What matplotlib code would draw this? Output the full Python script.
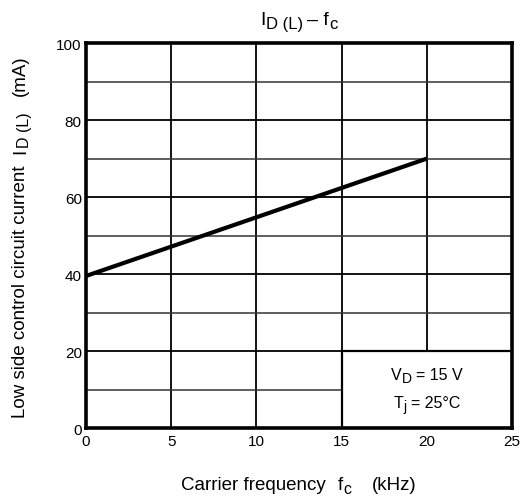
import matplotlib
matplotlib.use("Agg")
import matplotlib.pyplot as plt
from matplotlib.patches import Rectangle

plt.rcParams['font.family'] = ['Liberation Sans', 'DejaVu Sans']

freq_khz = [0, 20]
current_ma = [39.5, 70]
x_ticks = [0, 5, 10, 15, 20, 25]
y_ticks = [0, 20, 40, 60, 80, 100]
minor_y = [10, 30, 50, 70, 90]

W, H, DPI = 5.24, 5.02, 100
fig = plt.figure(figsize=(W, H), dpi=DPI)
ax = fig.add_axes([0.164, 0.1454, 0.813, 0.7666])
ax.set_xlim(0, 25)
ax.set_ylim(0, 100)

for x in x_ticks[1:-1]:
    ax.axvline(x, color='black', lw=1.3, zorder=1)
for y in y_ticks[1:-1]:
    ax.axhline(y, color='black', lw=1.3, zorder=1)
for y in minor_y:
    ax.axhline(y, color='#333333', lw=1.1, zorder=1)

ax.add_patch(Rectangle((15, 0), 10, 20, facecolor='white', edgecolor='black', lw=1.6, zorder=2))

ax.plot(freq_khz, current_ma, color='black', lw=3, solid_capstyle='butt', zorder=4)

for s in ax.spines.values():
    s.set_linewidth(2.6)
    s.set_zorder(5)
ax.set_xticks(x_ticks)
ax.set_yticks(y_ticks)
ax.tick_params(length=0, labelsize=11, pad=4)
ax.tick_params(axis='y', pad=3)


def compose(parts, x, y, coords, rotation=0):
    """parts: (text, fontsize, subscript shift pt, gap before pt)"""
    arts = []
    for i, (s, size, shift, gap) in enumerate(parts):
        kw = dict(fontsize=size, ha='left', va='baseline', rotation=rotation,
                  rotation_mode='anchor', annotation_clip=False, zorder=6)
        if i == 0:
            t = ax.annotate(s, xy=(x, y), xycoords=coords, xytext=(0, 0),
                            textcoords='offset points', **kw)
        elif rotation == 0:
            t = ax.annotate(s, xy=(1, y), xycoords=(arts[-1], coords),
                            xytext=(gap, -shift), textcoords='offset points', **kw)
        else:
            t = ax.annotate(s, xy=(x, 1), xycoords=(coords, arts[-1]),
                            xytext=(shift, gap), textcoords='offset points', **kw)
        arts.append(t)
    return arts


def center_group(arts, target_px, rotation=0):
    fig.canvas.draw()
    r = fig.canvas.get_renderer()
    exts = [a.get_window_extent(r) for a in arts]
    if rotation == 0:
        lo = min(e.x0 for e in exts); hi = max(e.x1 for e in exts)
        d = target_px - (lo + hi) / 2
        arts[0].xyann = (d * 72 / DPI, 0)
    else:
        lo = min(e.y0 for e in exts); hi = max(e.y1 for e in exts)
        d = target_px - (lo + hi) / 2
        arts[0].xyann = (0, d * 72 / DPI)


ax_cx_px = (0.164 + 0.813 / 2) * W * DPI
ax_cy_px = (0.1454 + 0.7666 / 2) * H * DPI

title = compose([("I", 14, 0, 0), ("D (L)", 12, 2.7, 0.8),
                 ("– f", 14, 0, 2.8), ("c", 12, 2.7, 0.3)],
                0, 1 - 25 / 502, 'figure fraction')
xlab = compose([("Carrier frequency", 13.5, 0, 0), ("f", 13.5, 0, 8.5),
                ("c", 11.5, 2.7, 0.3), ("(kHz)", 13.5, 0, 14.5)],
               0, 12 / 502, 'figure fraction')
ylab = compose([("Low side control circuit current", 13.5, 0, 0), ("I", 13.5, 0, 8),
                ("D (L)", 11.5, 3.2, 0.8), ("(mA)", 13.5, 0, 12)],
               25 / 524, 0, 'figure fraction', rotation=90)
box1 = compose([("V", 11.5, 0, 0), ("D", 10, 2.4, 0.3), ("= 15 V", 11.5, 0, 2.5)],
               0, 1 - 380 / 502, 'figure fraction')
box2 = compose([("T", 11.5, 0, 0), ("j", 10, 2.4, 0.3), ("= 25°C", 11.5, 0, 3)],
               0, 1 - 408 / 502, 'figure fraction')

box_cx_px = (0.164 + 0.813 * 0.8) * W * DPI
center_group(title, ax_cx_px)
center_group(xlab, ax_cx_px)
center_group(ylab, ax_cy_px, rotation=90)
center_group(box1, box_cx_px)
center_group(box2, box_cx_px)

fig.savefig('out.png', dpi=DPI)
